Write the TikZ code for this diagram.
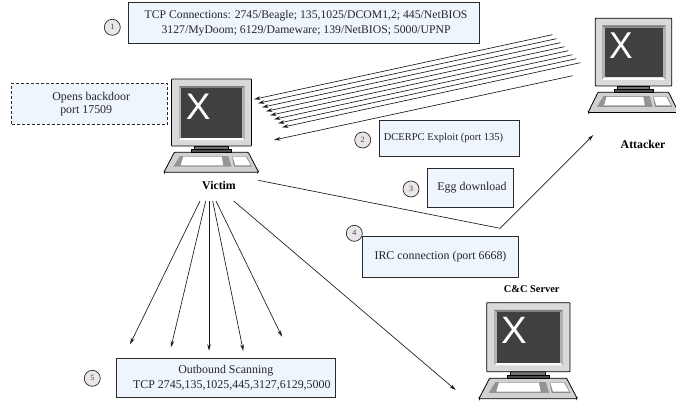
\documentclass[tikz,border=0pt]{standalone}
\usepackage{fontspec}
\setmainfont{Liberation Serif}
\newfontfamily\xfont{Liberation Sans}
\usetikzlibrary{arrows.meta}
\definecolor{boxfill}{HTML}{EEF5FD}
\definecolor{numfill}{HTML}{E9E5E9}
\definecolor{edge}{HTML}{2A2A2A}
\newcommand{\pad}[1]{\rule{#1pt}{0pt}}
\tikzset{
  infobox/.style={draw=edge,line width=0.8pt,fill=boxfill,inner sep=0pt,align=center,font=\fontsize{11.9}{15}\selectfont,text=black!85},
  dashbox/.style={infobox,densely dashed},
  numdisc/.style={circle,draw=edge,line width=0.7pt,fill=numfill,minimum size=16pt,inner sep=0pt,font=\fontsize{8}{8}\selectfont,text=black!75},
  pclabel/.style={inner sep=0pt,font=\fontsize{11.8}{12}\selectfont\bfseries},
  wire/.style={line width=0.65pt,draw=black!90},
  arrow/.style={wire,-{Stealth[length=6.5pt,width=3.6pt]}},
  computer/.pic={
    % keyboard
    \draw[line width=0.8pt,fill=black!18,rounded corners=0.8pt] (2.8,73.3)--(76.8,73.3)--(86.8,92.6)--(86.5,93.3)--(-7,93.3)--(-7.2,92.6)--cycle;
    \fill[black!42] (8.5,77)--(56.8,77)--(60,87.6)--(1.8,87.6)--cycle;
    \fill[black!45] (60.5,77.5)--(75.5,77.5)--(80.5,87.6)--(62.5,87.6)--cycle;
    \fill[white] (11.8,77.7)--(50.2,77.7)--(51.8,86.3)--(9.2,86.3)--cycle;
    \fill[white] (61.2,78)--(74.5,78)--(79.2,86.3)--(63.8,86.3)--cycle;
    % stand
    \draw[line width=0.6pt,fill=black!55] (22.8,67) rectangle (56.8,70.3);
    \draw[line width=0.6pt,fill=black!70] (19.5,70.3) rectangle (60.2,73.3);
    % monitor
    \draw[line width=0.8pt,fill=black!15,rounded corners=0.6pt] (0,0) rectangle (80,67);
    \fill[black!30] (7.2,7) rectangle (73.5,61);
    \fill[black!50] (7.2,7)--(73.5,7)--(70.5,9.3)--(9.8,9.3)--cycle;
    \fill[white] (7.2,61)--(73.5,61)--(70.5,58.6)--(9.8,58.6)--cycle;
    \fill[black!75] (9.8,9.3) rectangle (70.5,58.6);
    \node[transform shape,inner sep=0pt,text=white,font=\fontsize{37}{37}\selectfont\xfont] at (26.8,27.3) {X};
  }
}
\begin{document}
\begin{tikzpicture}[x=1pt,y=-1pt]
\useasboundingbox (0,0) rectangle (676,402);

% computers
\pic (victim) at (171.5,79) {computer};
\pic[xscale=0.955,yscale=1.01] (attacker) at (595.3,18.3) {computer};
\pic[xscale=1.04,yscale=1.03] (ccserver) at (486.7,302.7) {computer};

% labels
\node[pclabel] (lvictim) at (219,185) {Victim};
\node[pclabel] (lattacker) at (643,144) {Attacker};
\node[pclabel,font=\fontsize{10.4}{10.4}\selectfont\bfseries] (lcc) at (531.7,289) {C\&C Server};

% boxes
\node[infobox,font=\fontsize{11.7}{15}\selectfont,minimum width=350.7pt,minimum height=40.6pt] (b1) at (303.6,23)
  {\pad{5}TCP Connections: 2745/Beagle; 135,1025/DCOM1,2; 445/NetBIOS\\\pad{5}3127/MyDoom; 6129/Dameware; 139/NetBIOS; 5000/UPNP};
\node[dashbox,font=\fontsize{11.9}{13}\selectfont,minimum width=156pt,minimum height=40.7pt] (bd) at (89.7,103.7)
  {\pad{3}Opens backdoor\\port 17509\pad{7}};
\node[infobox,font=\fontsize{10.5}{10.5}\selectfont,minimum width=140pt,minimum height=36pt] (b2) at (449.3,138)
  {DCERPC Exploit (port 135)\pad{11.6}};
\node[infobox,minimum width=86pt,minimum height=39pt] (b3) at (470.3,187.8)
  {\pad{3.4}Egg download};
\node[infobox,minimum width=155.6pt,minimum height=40.6pt] (b4) at (440.5,257)
  {IRC connection (port 6668)};
\node[infobox,minimum width=218.3pt,minimum height=39.4pt] (b5) at (225.8,378)
  {Outbound Scanning\\\pad{12}TCP 2745,135,1025,445,3127,6129,5000};

% numbers
\node[numdisc] (n1) at (112.3,27.3) {1};
\node[numdisc] (n2) at (362.7,140) {2};
\node[numdisc] (n3) at (411,189) {3};
\node[numdisc] (n4) at (354.3,233.3) {4};
\node[numdisc] (n5) at (92.3,378.3) {5};

% attacker -> victim bundle
\foreach \i in {0,...,7}{
  \coordinate (src\i) at ({552.3+4*\i},{34.7+4*\i});
  \coordinate (tip\i) at ({254+4*\i},{99.3+4*\i});
  \draw[arrow] (src\i) -- (tip\i);
}
\coordinate (src8) at (572.7,75.7);
\coordinate (tip8) at (274,140);
\draw[arrow] (src8) -- (tip8);

% victim -> attacker
\coordinate (irca) at (258.3,180.3);
\coordinate (ircb) at (500,228.3);
\coordinate (ircc) at (593.3,135);
\draw[arrow] (irca) -- (ircb) -- (ircc);

% outbound scanning
\coordinate (fa0) at (200,201);   \coordinate (fb0) at (130,344.3);
\coordinate (fa1) at (205.7,201); \coordinate (fb1) at (171,347.3);
\coordinate (fa2) at (209,201);   \coordinate (fb2) at (209,350.7);
\coordinate (fa3) at (212.7,201); \coordinate (fb3) at (243.3,351);
\coordinate (fa4) at (216,201);   \coordinate (fb4) at (282,336.7);
\coordinate (fa5) at (233.7,201); \coordinate (fb5) at (455.7,390);
\foreach \i in {0,...,5}{ \draw[arrow] (fa\i) -- (fb\i); }
\end{tikzpicture}
\end{document}
